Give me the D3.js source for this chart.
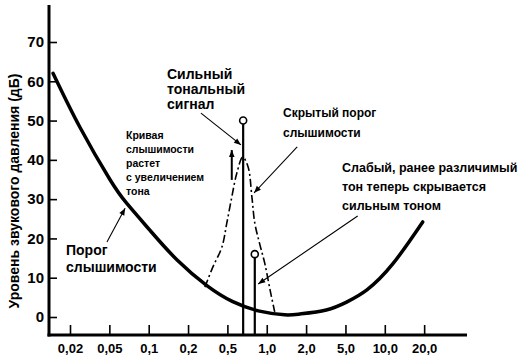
<!DOCTYPE html>
<html>
<head>
<meta charset="utf-8">
<script src="https://cdn.jsdelivr.net/npm/d3@7"></script>
<style>
  body { margin: 0; background: #fff; }
  svg { display: block; }
  text { font-family: "Liberation Sans", Arial, sans-serif; fill: #000; }
</style>
</head>
<body>
<script>
// frequency ticks (kHz), drawn evenly spaced as in the original figure
const xTicks = [0.02, 0.05, 0.1, 0.2, 0.5, 1, 2, 5, 10, 20];
const xTickLabels = ["0,02", "0,05", "0,1", "0,2", "0,5", "1,0", "2,0", "5,0", "10,0", "20,0"];
const yTicks = [0, 10, 20, 30, 40, 50, 60, 70];

// threshold of hearing
const thresholdFreq = [0.0135, 0.0252, 0.0505, 0.068, 0.102, 0.165, 0.31, 0.55, 0.88, 1.37, 1.79, 3.2, 5.1, 7.3, 11.5, 19.5];
const thresholdDb   = [62, 48.3, 35.0, 28.9, 22.1, 14.5, 8.0, 3.9, 1.5, 0.56, 0.76, 1.8, 3.8, 6.9, 13.5, 24.2];

// masked threshold around the strong tone
const maskFreq = [0.296, 0.356, 0.44, 0.493, 0.54, 0.59, 0.655, 0.72, 0.77, 0.81, 0.88, 0.965, 1.06, 1.15];
const maskDb   = [7.6, 12.7, 17.8, 23.9, 30.5, 36.6, 40.7, 38.2, 30.5, 23.9, 18.8, 13.7, 6.9, 1.3];

// strong tone, weak tone
const toneFreq = [0.66, 0.81];
const toneDb = [50, 16];

// annotation arrows, in data units [freq, dB] -> [freq, dB]
const arrows = [
  [[0.27, 51.9], [0.635, 43.8]],   // strong tone
  [[1.71, 43.3], [0.80, 31.6]],    // hidden threshold
  [[6.2, 25.7], [0.86, 8.4]],      // weak tone
  [[0.0473, 19.1], [0.066, 27.7]], // threshold
  [[0.54, 34.9], [0.54, 42.5]]     // curve rises
];

const width = 521, height = 362;
const axisX = 49, axisY = 335;

const svg = d3.select('body').append('svg')
  .attr('width', width)
  .attr('height', height);

svg.append('defs').append('marker')
  .attr('id', 'arrow')
  .attr('viewBox', '0 0 10 10')
  .attr('refX', 10).attr('refY', 5)
  .attr('markerWidth', 8).attr('markerHeight', 7)
  .attr('markerUnits', 'userSpaceOnUse')
  .attr('orient', 'auto')
  .append('path')
  .attr('d', 'M0,1 L10,5 L0,9 z')
  .attr('fill', '#000');

// scales: log values mapped piecewise onto evenly spaced ticks
const xLog = d3.scaleLinear()
  .domain(xTicks.map(Math.log10))
  .range(xTicks.map((d, i) => 70 + i * 39.35));
const x = f => xLog(Math.log10(f));
const y = d3.scaleLinear().domain([0, 70]).range([317, 42]);

// y axis
svg.append('g')
  .attr('transform', `translate(${axisX},0)`)
  .call(d3.axisLeft(y).tickValues(yTicks).tickSize(-8).tickPadding(5))
  .call(g => g.select('.domain').remove())
  .call(g => g.selectAll('line').attr('stroke-width', 1.6))
  .call(g => g.selectAll('text')
    .attr('font-family', '"Liberation Sans", Arial, sans-serif')
    .attr('font-size', 15).attr('font-weight', 'bold'));

// x axis
svg.append('g')
  .attr('transform', `translate(0,${axisY})`)
  .call(d3.axisBottom(xLog).tickValues(xTicks.map(Math.log10))
    .tickFormat((d, i) => xTickLabels[i]).tickSize(-10).tickPadding(9))
  .call(g => g.select('.domain').remove())
  .call(g => g.selectAll('line').attr('stroke-width', 1.6))
  .call(g => g.selectAll('text')
    .attr('font-family', '"Liberation Serif", serif')
    .attr('font-size', 13).attr('font-weight', 'bold'));

svg.append('line')
  .attr('x1', axisX).attr('x2', axisX)
  .attr('y1', 5).attr('y2', axisY + 1.5)
  .attr('stroke', '#000').attr('stroke-width', 3);
svg.append('line')
  .attr('x1', axisX - 1.5).attr('x2', 467)
  .attr('y1', axisY).attr('y2', axisY)
  .attr('stroke', '#000').attr('stroke-width', 3);

// y axis title
svg.append('text')
  .attr('transform', 'translate(14,191) rotate(-90)')
  .attr('text-anchor', 'middle')
  .attr('dy', '0.35em')
  .attr('font-size', 14)
  .attr('font-weight', 'bold')
  .text('Уровень звукового давления (дБ)');

// threshold curve
const smooth = d3.line()
  .x(d => x(d[0]))
  .y(d => y(d[1]))
  .curve(d3.curveNatural);

svg.append('path')
  .datum(thresholdFreq.map((f, i) => [f, thresholdDb[i]]))
  .attr('d', smooth)
  .attr('fill', 'none')
  .attr('stroke', '#000')
  .attr('stroke-width', 3.5)
  .attr('stroke-linecap', 'round');

// masked threshold
const peak = d3.line()
  .x(d => x(d[0]))
  .y(d => y(d[1]))
  .curve(d3.curveCatmullRom.alpha(0.5));

svg.append('path')
  .datum(maskFreq.map((f, i) => [f, maskDb[i]]))
  .attr('d', peak)
  .attr('fill', 'none')
  .attr('stroke', '#000')
  .attr('stroke-width', 1.6)
  .attr('stroke-dasharray', '8,3,2,3');

// tones
svg.selectAll('.tone')
  .data(toneFreq)
  .enter()
  .append('line')
  .attr('class', 'tone')
  .attr('x1', d => x(d)).attr('x2', d => x(d))
  .attr('y1', axisY)
  .attr('y2', (d, i) => y(toneDb[i]) + 3.5)
  .attr('stroke', '#000')
  .attr('stroke-width', 2.2);

svg.selectAll('.toneHead')
  .data(toneFreq)
  .enter()
  .append('circle')
  .attr('class', 'toneHead')
  .attr('cx', d => x(d))
  .attr('cy', (d, i) => y(toneDb[i]))
  .attr('r', 3.5)
  .attr('fill', '#fff')
  .attr('stroke', '#000')
  .attr('stroke-width', 1.6);

// arrows
svg.selectAll('.arrow')
  .data(arrows)
  .enter()
  .append('line')
  .attr('class', 'arrow')
  .attr('x1', d => x(d[0][0])).attr('y1', d => y(d[0][1]))
  .attr('x2', d => x(d[1][0])).attr('y2', d => y(d[1][1]))
  .attr('stroke', '#000')
  .attr('stroke-width', (d, i) => i === 4 ? 2 : 1.1)
  .attr('marker-end', 'url(#arrow)');

// text blocks
function block(lines, x0, y0, dy, size, weight) {
  const t = svg.append('text')
    .attr('font-size', size)
    .attr('font-weight', weight);
  lines.forEach((s, i) => {
    t.append('tspan').attr('x', x0).attr('y', y0 + i * dy).text(s);
  });
}

block(['Сильный', 'тональный', 'сигнал'], 167, 79, 15, 14, 'bold');
block(['Кривая', 'слышимости', 'растет', 'с увеличением', 'тона'], 126, 139, 14, 10.5, 'bold');
block(['Порог', 'слышимости'], 66, 255, 17, 14, 'bold');
block(['Скрытый порог', 'слышимости'], 283, 117, 20, 12, 'bold');
block(['Слабый, ранее различимый', 'тон теперь скрывается', 'сильным тоном'], 342, 172, 19, 12.5, 'bold');
</script>
</body>
</html>
